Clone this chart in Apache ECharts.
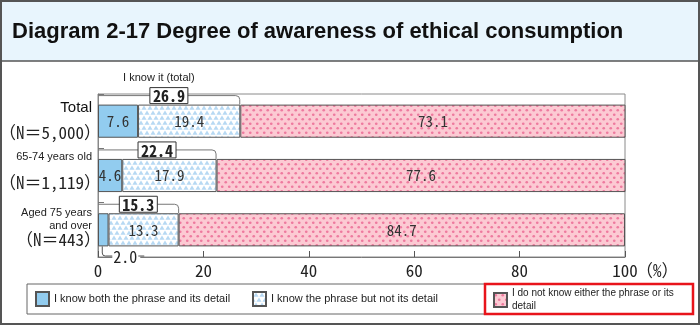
<!DOCTYPE html>
<html><head><meta charset="utf-8">
<script src="https://cdn.jsdelivr.net/npm/echarts@6/dist/echarts.min.js"></script>
<style>html,body{margin:0;padding:0;background:#fff}#c{width:700px;height:325px}</style>
</head><body><div id="c"></div>
<script>
// ---- data ----
const categories = ['Total', '65-74 years old', 'Aged 75 years and over'];
const sampleSizes = ['5,000', '1,119', '443'];
const knowBoth = [7.6, 4.6, 2.0];
const knowPhraseOnly = [19.4, 17.9, 13.3];
const dontKnow = [73.1, 77.6, 84.7];
const knowTotal = [26.9, 22.4, 15.3];
const seriesNames = ['I know both the phrase and its detail', 'I know the phrase but not its detail', 'I do not know either the phrase or its detail'];
const totalHeader = 'I know it (total)';
const titleText = 'Diagram 2-17 Degree of awareness of ethical consumption';
const unitText = '（%）';

// ---- styles ----
const NUM_FONT = "'Noto Sans Mono CJK JP','DejaVu Sans Mono',monospace";
const TXT_FONT = "'Liberation Sans',Arial,sans-serif";
const BAR_RATIO = 0.61;

function triPattern() {
  const c = document.createElement('canvas'); c.width = 6; c.height = 10;
  const g = c.getContext('2d');
  g.fillStyle = '#ffffff'; g.fillRect(0, 0, 6, 10);
  g.fillStyle = '#b7d9f3';
  const tri = (cx, by) => { g.beginPath(); g.moveTo(cx - 2.6, by); g.lineTo(cx, by - 4.2); g.lineTo(cx + 2.6, by); g.closePath(); g.fill(); };
  tri(3, 4.7); tri(0, 9.7); tri(6, 9.7);
  return c;
}
function dotPattern() {
  const c = document.createElement('canvas'); c.width = 7; c.height = 9;
  const g = c.getContext('2d');
  g.fillStyle = '#fccad3'; g.fillRect(0, 0, 7, 9);
  g.fillStyle = '#ee7a9f';
  [[1.75, 2.25], [5.25, 6.75]].forEach(p => { g.beginPath(); g.arc(p[0], p[1], 1.35, 0, Math.PI * 2); g.fill(); });
  return c;
}
const colBlue = '#92ccef';
const colTri = { image: triPattern(), repeat: 'repeat' };
const colDot = { image: dotPattern(), repeat: 'repeat' };

function barSeries(name, values, color, hideIdx) {
  return {
    name, type: 'bar', stack: 'all', barWidth: (BAR_RATIO * 100) + '%',
    itemStyle: { color, borderColor: '#555', borderWidth: 1 },
    label: { show: true, position: 'inside', fontFamily: NUM_FONT, fontSize: 15, color: '#333', formatter: p => p.value.toFixed(1) },
    emphasis: { disabled: true },
    data: values.map((v, i) => hideIdx === i ? { value: v, label: { show: false } } : v)
  };
}

function renderBracket(params, api) {
  const v = api.value(0), c = api.value(1);
  const p0 = api.coord([0, c]), p1 = api.coord([v, c]);
  const bandH = api.size([0, 1])[1];
  const barTop = p0[1] - bandH * BAR_RATIO / 2;
  const ly = barTop - 9, r = 4;
  const mid = api.coord([v / 2, c])[0];
  const children = [
    { type: 'path', shape: { pathData: `M${p0[0]},${ly}L${p1[0] - r},${ly}Q${p1[0]},${ly} ${p1[0]},${ly + r}L${p1[0]},${barTop}` },
      style: { fill: null, stroke: '#777', lineWidth: 1 } },
    { type: 'rect', shape: { x: mid - 19, y: ly - 8, width: 38, height: 16 }, style: { fill: '#fff', stroke: '#333', lineWidth: 1 } },
    { type: 'text', style: { x: mid, y: ly + 0.5, text: v.toFixed(1), align: 'center', verticalAlign: 'middle', font: `bold 16px ${NUM_FONT}`, fill: '#222' } }
  ];
  if (params.dataIndex === 0) {
    children.push({ type: 'text', style: { x: mid - 10, y: ly - 18, text: totalHeader, align: 'center', verticalAlign: 'middle', font: `11px ${TXT_FONT}`, fill: '#222' } });
  }
  return { type: 'group', children };
}

function renderSmall(params, api) {
  const v = api.value(0), c = api.value(1);
  const p = api.coord([v / 2, c]);
  const bandH = api.size([0, 1])[1];
  const barBottom = p[1] + bandH * BAR_RATIO / 2;
  const ly = api.coord([0, c])[1] + bandH / 2 - 1;
  const x = p[0] - 1;
  return { type: 'group', children: [
    { type: 'rect', shape: { x: x + 10, y: ly - 6, width: 28, height: 13 }, style: { fill: '#fff' } },
    { type: 'path', shape: { pathData: `M${x},${barBottom}L${x},${ly - 3}Q${x},${ly} ${x + 3},${ly}L${x + 10},${ly}M${x + 36},${ly}L${x + 42},${ly}` },
      style: { fill: null, stroke: '#555', lineWidth: 1 } },
    { type: 'text', style: { x: x + 23, y: ly + 0.5, text: v.toFixed(1), align: 'center', verticalAlign: 'middle', font: `16px ${NUM_FONT}`, fill: '#222' } }
  ] };
}

const legendCommon = { itemWidth: 13, itemHeight: 14, selectedMode: false, padding: 0, z: 10, icon: 'rect' };
const chart = echarts.init(document.getElementById('c'), null, { renderer: 'canvas' });
chart.setOption({
  animation: false,
  grid: { left: 98, right: 75, top: 94, bottom: 68, outerBoundsMode: 'none', containLabel: false, show: true, borderColor: '#8a8a8a', borderWidth: 1, backgroundColor: 'transparent' },
  xAxis: {
    type: 'value', min: 0, max: 100, interval: 20,
    axisLine: { show: true, lineStyle: { color: '#777' } },
    axisTick: { show: true, inside: true, length: 6, lineStyle: { color: '#555' } },
    splitLine: { show: false },
    axisLabel: { fontFamily: NUM_FONT, fontSize: 17, color: '#222', margin: 5 }
  },
  yAxis: {
    type: 'category', data: categories, inverse: true,
    axisLine: { show: true, lineStyle: { color: '#888' } },
    axisTick: { show: true, inside: true, length: 6, lineStyle: { color: '#777' } },
    axisLabel: {
      margin: -3, align: 'right',
      formatter: (val, i) => {
        const n = '（N＝' + sampleSizes[i] + '）';
        if (i === 0) return `{t|${val}}\n{n0|${n}}`;
        if (i === 1) return `{s1|${val}}\n{n1|${n}}`;
        const parts = val.split(' years ');
        return `{s|${parts[0]} years}\n{s|${parts[1]}}\n{n2|${n}}\n{sp| }`;
      },
      rich: {
        t: { fontFamily: TXT_FONT, fontSize: 15, color: '#111', lineHeight: 22, align: 'right', padding: [0, 9, 0, 0] },
        s1: { fontFamily: TXT_FONT, fontSize: 11, color: '#222', lineHeight: 15, align: 'right', padding: [0, 9, 0, 0] },
        s: { fontFamily: TXT_FONT, fontSize: 11, color: '#222', lineHeight: 13, align: 'right', padding: [0, 9, 0, 0] },
        n0: { fontFamily: NUM_FONT, fontSize: 17, color: '#222', lineHeight: 26, align: 'right' },
        n1: { fontFamily: NUM_FONT, fontSize: 17, color: '#222', lineHeight: 37, align: 'right' },
        n2: { fontFamily: NUM_FONT, fontSize: 17, color: '#222', lineHeight: 15, align: 'right' },
        sp: { fontSize: 1, lineHeight: 6 }
      }
    }
  },
  legend: [
    Object.assign({ data: [seriesNames[0]], left: 35, top: 291, textStyle: { fontFamily: TXT_FONT, fontSize: 11, color: '#222' } }, legendCommon),
    Object.assign({ data: [seriesNames[1]], left: 252, top: 291, textStyle: { fontFamily: TXT_FONT, fontSize: 11, color: '#222' } }, legendCommon),
    Object.assign({ data: [seriesNames[2]], left: 493, top: 287,
      formatter: name => name.replace(' its ', ' its\n'), textStyle: { fontFamily: TXT_FONT, fontSize: 10, color: '#222', lineHeight: 13 } }, legendCommon)
  ],
  graphic: [
    { type: 'rect', z: -10, shape: { x: 1, y: 1, width: 698, height: 60 }, style: { fill: '#e8f5fd' } },
    { type: 'line', z: 10, shape: { x1: 0, y1: 61, x2: 700, y2: 61 }, style: { stroke: '#555', lineWidth: 1.5 } },
    { type: 'rect', z: 10, shape: { x: 1, y: 1, width: 698, height: 323 }, style: { fill: null, stroke: '#555', lineWidth: 2 } },
    { type: 'text', z: 10, style: { x: 12, y: 32, text: titleText, font: `bold 22px ${TXT_FONT}`, fill: '#111', verticalAlign: 'middle' } },
    { type: 'text', z: 10, style: { x: 636, y: 271, text: unitText, font: `17px ${NUM_FONT}`, fill: '#222', verticalAlign: 'middle' } },
    { type: 'rect', z: 1, shape: { x: 27, y: 284, width: 660, height: 30 }, style: { fill: null, stroke: '#666', lineWidth: 1 } },
    { type: 'rect', z: 1, shape: { x: 485, y: 284, width: 208, height: 30 }, style: { fill: '#fff', stroke: '#e8141b', lineWidth: 2.5 } }
  ],
  series: [
    barSeries(seriesNames[0], knowBoth, colBlue, 2),
    barSeries(seriesNames[1], knowPhraseOnly, colTri, -1),
    barSeries(seriesNames[2], dontKnow, colDot, -1),
    { type: 'custom', name: 'total', renderItem: renderBracket, data: knowTotal.map((v, i) => [v, i]), encode: { x: 0, y: 1 }, z: 5, silent: true },
    { type: 'custom', name: 'small', renderItem: renderSmall, data: [[knowBoth[2], 2]], encode: { x: 0, y: 1 }, z: 5, silent: true }
  ]
});
</script></body></html>
